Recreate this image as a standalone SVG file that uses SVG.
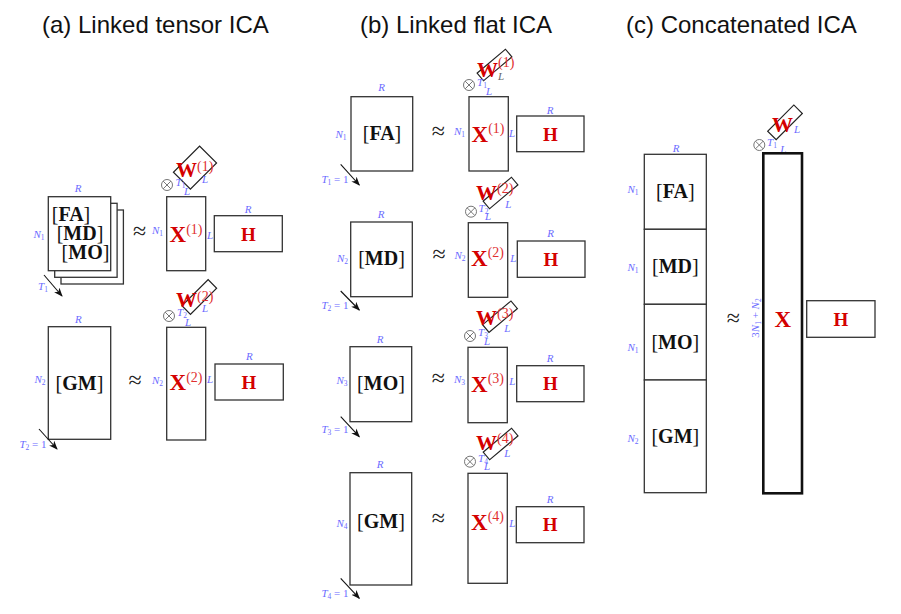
<svg xmlns="http://www.w3.org/2000/svg" width="901" height="614" viewBox="0 0 901 614">
<defs>
<style>
.title{font-family:"Liberation Sans",Arial,sans-serif;font-size:24px;fill:#111}
.box{fill:#fff;stroke:#333;stroke-width:1.3}
.thick{fill:#fff;stroke:#111;stroke-width:2.6}
.wbox{fill:none;stroke:#222;stroke-width:1.2}
.lbl{font-family:"Liberation Serif",serif;font-style:italic;font-size:11px;fill:#6b6bff;text-anchor:middle}
.lbl .s{font-style:normal;font-size:7.5px}
.lbl .n{font-style:normal}
.gry{fill:#666}
.mat{font-family:"Liberation Serif",serif;font-size:20px;fill:#111;text-anchor:middle}
.b{font-weight:bold}
.red{font-family:"Liberation Serif",serif;font-size:23px;fill:#d40000;font-weight:bold;text-anchor:middle}
.w{font-family:"Liberation Serif",serif;font-size:21px;fill:#d40000;font-weight:bold}
.p{font-weight:normal;font-size:14px;fill:#e03030}
.hh{font-family:"Liberation Serif",serif;font-size:19px;fill:#d40000;font-weight:bold;text-anchor:middle}
.ap{font-family:"Liberation Serif",serif;font-size:24px;fill:#222;text-anchor:middle}
.ot{fill:none;stroke:#777;stroke-width:1}
.arr{stroke:#111;stroke-width:1.1;fill:none;marker-end:url(#ah)}
</style>
<marker id="ah" markerWidth="9" markerHeight="8" refX="8" refY="4" orient="auto" markerUnits="userSpaceOnUse"><path d="M0,0.5 L9,4 L0,7.5 L2.5,4 z" fill="#111"/></marker>
<g id="otm" class="ot"><circle r="5.5"/><path d="M-3.9,-3.9L3.9,3.9M-3.9,3.9L3.9,-3.9"/></g>
</defs>
<rect width="901" height="614" fill="#fff"/>

<g id="titles">
<text class="title" x="42" y="33">(a) Linked tensor ICA</text>
<text class="title" x="360" y="33">(b) Linked flat ICA</text>
<text class="title" x="626" y="33">(c) Concatenated ICA</text>
</g>

<!-- Panel (a) -->
<g id="a-data1">
<rect class="box" x="61" y="210" width="62.4" height="74"/>
<rect class="box" x="54.7" y="203.3" width="62.4" height="74"/>
<rect class="box" x="48.3" y="196.7" width="62.4" height="74"/>
<text class="mat" x="71" y="221"><tspan>[</tspan><tspan class="b">FA</tspan><tspan>]</tspan></text>
<text class="mat" x="80" y="239.5"><tspan>[</tspan><tspan class="b">MD</tspan><tspan>]</tspan></text>
<text class="mat" x="85.5" y="259"><tspan>[</tspan><tspan class="b">MO</tspan><tspan>]</tspan></text>
<text class="lbl" x="78" y="192">R</text>
<text class="lbl" x="39" y="238">N<tspan class="s" dy="2">1</tspan></text>
<text class="lbl" x="43" y="290">T<tspan class="s" dy="2">1</tspan></text>
</g>
<text class="ap" x="139.5" y="239">≈</text>
<g id="a-w1">
<rect class="wbox" x="-18.5" y="-12" width="37" height="24" transform="translate(195,167.6) rotate(-45)"/>
<text class="w" x="176" y="177">W<tspan class="p" dy="-6">(1)</tspan></text>
<text class="lbl" x="205" y="183">L</text>
<use href="#otm" x="167" y="185"/>
<text class="lbl" x="180.5" y="186">T<tspan class="s" dy="2">1</tspan></text>
<text class="lbl" x="187" y="195">L</text>
</g>
<g id="a-x1">
<rect class="box" x="166.7" y="196.7" width="39" height="74"/>
<text class="red" x="186" y="242">X<tspan class="p" dy="-8">(1)</tspan></text>
<text class="lbl" x="157.5" y="234">N<tspan class="s" dy="2">1</tspan></text>
<text class="lbl" x="210" y="238.5">L</text>
</g>
<g id="a-h1">
<rect class="box" x="214.3" y="215.7" width="68" height="36"/>
<text class="hh" x="248.3" y="240.5">H</text>
<text class="lbl" x="248" y="213">R</text>
</g>

<g id="a-data2">
<rect class="box" x="48.3" y="326.7" width="62.4" height="112.6"/>
<text class="mat" x="79.5" y="390"><tspan>[</tspan><tspan class="b">GM</tspan><tspan>]</tspan></text>
<text class="lbl" x="78.3" y="323">R</text>
<text class="lbl" x="40" y="383">N<tspan class="s" dy="2">2</tspan></text>
<text class="lbl" x="33" y="448">T<tspan class="s" dy="2">2</tspan><tspan class="n" dy="-2"> = 1</tspan></text>
</g>
<text class="ap" x="135" y="387.5">≈</text>
<g id="a-w2">
<rect class="wbox" x="-18.5" y="-6" width="37" height="12" transform="translate(199.3,297) rotate(-45)"/>
<text class="w" x="176" y="306.5">W<tspan class="p" dy="-6">(2)</tspan></text>
<text class="lbl" x="205" y="312">L</text>
<use href="#otm" x="169" y="316"/>
<text class="lbl" x="182" y="316">T<tspan class="s" dy="2">2</tspan></text>
<text class="lbl" x="188" y="326">L</text>
</g>
<g id="a-x2">
<rect class="box" x="166.7" y="327.3" width="39" height="112.7"/>
<text class="red" x="186" y="390">X<tspan class="p" dy="-8">(2)</tspan></text>
<text class="lbl" x="157.5" y="384">N<tspan class="s" dy="2">2</tspan></text>
<text class="lbl" x="210" y="382.5">L</text>
</g>
<g id="a-h2">
<rect class="box" x="215" y="364" width="68.3" height="36"/>
<text class="hh" x="249" y="389">H</text>
<text class="lbl" x="249.3" y="360">R</text>
</g>

<!-- Panel (b) -->
<g id="b-fa">
<rect class="box" x="351" y="96.7" width="61.7" height="74.3"/>
<text class="mat" x="382" y="140"><tspan>[</tspan><tspan class="b">FA</tspan><tspan>]</tspan></text>
<text class="lbl" x="381.7" y="91">R</text>
<text class="lbl" x="341" y="138">N<tspan class="s" dy="2">1</tspan></text>
<text class="lbl" x="335" y="183">T<tspan class="s" dy="2">1</tspan><tspan class="n" dy="-2"> = 1</tspan></text>
</g>
<text class="ap" x="438.3" y="138.5">≈</text>
<g id="b-w1">
<rect class="wbox" x="-18.5" y="-5" width="37" height="10" transform="translate(494.5,65) rotate(-40)"/>
<text class="w" x="477" y="77">W<tspan class="p" dy="-10">(1)</tspan></text>
<text class="lbl gry" x="501" y="80">L</text>
<use href="#otm" x="469" y="85"/>
<text class="lbl" x="482" y="86">T<tspan class="s" dy="2">1</tspan></text>
<text class="lbl" x="489" y="95">L</text>
</g>
<g id="b-x1">
<rect class="box" x="469" y="96.7" width="39.3" height="74.3"/>
<text class="red" x="488" y="141.7">X<tspan class="p" dy="-9">(1)</tspan></text>
<text class="lbl" x="459.5" y="135">N<tspan class="s" dy="2">1</tspan></text>
<text class="lbl" x="512" y="137">L</text>
</g>
<g id="b-h1">
<rect class="box" x="516.7" y="116" width="67.3" height="35.7"/>
<text class="hh" x="550.3" y="140.5">H</text>
<text class="lbl" x="550" y="114">R</text>
</g>

<g id="b-md">
<rect class="box" x="350.7" y="222" width="61.6" height="74.7"/>
<text class="mat" x="381.5" y="265"><tspan>[</tspan><tspan class="b">MD</tspan><tspan>]</tspan></text>
<text class="lbl" x="381" y="218">R</text>
<text class="lbl" x="342.5" y="262">N<tspan class="s" dy="2">2</tspan></text>
<text class="lbl" x="335" y="309">T<tspan class="s" dy="2">2</tspan><tspan class="n" dy="-2"> = 1</tspan></text>
</g>
<text class="ap" x="439" y="262">≈</text>
<g id="b-w2">
<rect class="wbox" x="-18.5" y="-5" width="37" height="10" transform="translate(500.5,193) rotate(-40)"/>
<text class="w" x="476" y="200">W<tspan class="p" dy="-7">(2)</tspan></text>
<text class="lbl" x="508.3" y="207.5">L</text>
<use href="#otm" x="471" y="211.7"/>
<text class="lbl" x="483.5" y="212">T<tspan class="s" dy="2">2</tspan></text>
<text class="lbl" x="488" y="219.5">L</text>
</g>
<g id="b-x2">
<rect class="box" x="468.3" y="222.7" width="39.4" height="74.6"/>
<text class="red" x="487.5" y="266">X<tspan class="p" dy="-9">(2)</tspan></text>
<text class="lbl" x="460" y="259">N<tspan class="s" dy="2">2</tspan></text>
<text class="lbl" x="513.3" y="262">L</text>
</g>
<g id="b-h2">
<rect class="box" x="517.3" y="241" width="67.7" height="36.3"/>
<text class="hh" x="551" y="265.5">H</text>
<text class="lbl" x="550.7" y="236.5">R</text>
</g>

<g id="b-mo">
<rect class="box" x="350" y="346.7" width="61.7" height="75"/>
<text class="mat" x="381" y="390"><tspan>[</tspan><tspan class="b">MO</tspan><tspan>]</tspan></text>
<text class="lbl" x="380" y="342.5">R</text>
<text class="lbl" x="342" y="384">N<tspan class="s" dy="2">3</tspan></text>
<text class="lbl" x="335" y="433">T<tspan class="s" dy="2">3</tspan><tspan class="n" dy="-2"> = 1</tspan></text>
</g>
<text class="ap" x="438.3" y="386">≈</text>
<g id="b-w3">
<rect class="wbox" x="-18.5" y="-5" width="37" height="10" transform="translate(500,316.7) rotate(-40)"/>
<text class="w" x="476" y="325">W<tspan class="p" dy="-7">(3)</tspan></text>
<text class="lbl" x="507.3" y="331.5">L</text>
<use href="#otm" x="470" y="336"/>
<text class="lbl" x="483" y="336">T<tspan class="s" dy="2">3</tspan></text>
<text class="lbl" x="487" y="345">L</text>
</g>
<g id="b-x3">
<rect class="box" x="468" y="347.3" width="39.3" height="75.4"/>
<text class="red" x="487.5" y="391.7">X<tspan class="p" dy="-9">(3)</tspan></text>
<text class="lbl" x="459.5" y="383">N<tspan class="s" dy="2">3</tspan></text>
<text class="lbl" x="512.3" y="385">L</text>
</g>
<g id="b-h3">
<rect class="box" x="516.7" y="365.7" width="67.3" height="36"/>
<text class="hh" x="550.3" y="390">H</text>
<text class="lbl" x="550" y="361.5">R</text>
</g>

<g id="b-gm">
<rect class="box" x="350" y="472.7" width="61.7" height="112.3"/>
<text class="mat" x="381" y="528.3"><tspan>[</tspan><tspan class="b">GM</tspan><tspan>]</tspan></text>
<text class="lbl" x="380" y="468">R</text>
<text class="lbl" x="342" y="526.5">N<tspan class="s" dy="2">4</tspan></text>
<text class="lbl" x="335" y="596.5">T<tspan class="s" dy="2">4</tspan><tspan class="n" dy="-2"> = 1</tspan></text>
</g>
<text class="ap" x="438.3" y="526">≈</text>
<g id="b-w4">
<rect class="wbox" x="-18.5" y="-5" width="37" height="10" transform="translate(500.6,444) rotate(-40)"/>
<text class="w" x="476" y="450">W<tspan class="p" dy="-7">(4)</tspan></text>
<text class="lbl" x="507.3" y="457">L</text>
<use href="#otm" x="470" y="461.7"/>
<text class="lbl" x="483" y="461.5">T<tspan class="s" dy="2">4</tspan></text>
<text class="lbl" x="487" y="470">L</text>
</g>
<g id="b-x4">
<rect class="box" x="468" y="473.3" width="39.3" height="110"/>
<text class="red" x="487.5" y="530">X<tspan class="p" dy="-9">(4)</tspan></text>
<text class="lbl" x="512.3" y="526.5">L</text>
</g>
<g id="b-h4">
<rect class="box" x="516.3" y="506.7" width="67.7" height="36"/>
<text class="hh" x="550.2" y="531">H</text>
<text class="lbl" x="550" y="502.5">R</text>
</g>

<!-- Panel (c) -->
<g id="c-data">
<rect class="box" x="644.3" y="154.3" width="62" height="75"/>
<rect class="box" x="644.3" y="229.3" width="62" height="75"/>
<rect class="box" x="644.3" y="304.3" width="62" height="75.7"/>
<rect class="box" x="644.3" y="380" width="62" height="112.7"/>
<text class="mat" x="675.3" y="198.3"><tspan>[</tspan><tspan class="b">FA</tspan><tspan>]</tspan></text>
<text class="mat" x="675.3" y="273.3"><tspan>[</tspan><tspan class="b">MD</tspan><tspan>]</tspan></text>
<text class="mat" x="675.3" y="348.5"><tspan>[</tspan><tspan class="b">MO</tspan><tspan>]</tspan></text>
<text class="mat" x="675.3" y="442.5"><tspan>[</tspan><tspan class="b">GM</tspan><tspan>]</tspan></text>
<text class="lbl" x="676" y="152">R</text>
<text class="lbl" x="633" y="193">N<tspan class="s" dy="2">1</tspan></text>
<text class="lbl" x="633" y="270.5">N<tspan class="s" dy="2">1</tspan></text>
<text class="lbl" x="633" y="350.5">N<tspan class="s" dy="2">1</tspan></text>
<text class="lbl" x="633" y="441.5">N<tspan class="s" dy="2">2</tspan></text>
</g>
<text class="ap" x="733.3" y="326">≈</text>
<g id="c-w">
<rect class="wbox" x="-18.5" y="-6" width="37" height="12" transform="translate(785,122.3) rotate(-45)"/>
<text class="w" x="772" y="131.7">W</text>
<text class="lbl" x="797" y="132.5">L</text>
<use href="#otm" x="759.3" y="145"/>
<text class="lbl" x="772" y="146">T<tspan class="s" dy="2">1</tspan></text>
<text class="lbl" x="783.3" y="153">L</text>
</g>
<g id="c-x">
<rect class="thick" x="763.3" y="153.3" width="38.7" height="340"/>
<text class="red" x="782.7" y="327">X</text>
<text class="lbl" transform="translate(758.5,318) rotate(-90)"><tspan class="n">3</tspan>N<tspan class="s" dy="2">1</tspan><tspan class="n" dy="-2"> + </tspan>N<tspan class="s" dy="2">2</tspan></text>
</g>
<g id="c-h">
<rect class="box" x="806.7" y="300.7" width="68.3" height="36.6"/>
<text class="hh" x="841" y="325.5">H</text>
</g>

<g id="connectors">
<line class="arr" x1="44" y1="275" x2="62" y2="296"/>
<line class="arr" x1="39" y1="429" x2="57" y2="449"/>
<line class="arr" x1="340.7" y1="164.3" x2="359.3" y2="185"/>
<line class="arr" x1="340.7" y1="291" x2="359.3" y2="310"/>
<line class="arr" x1="340.7" y1="416.7" x2="359.3" y2="436.7"/>
<line class="arr" x1="340.7" y1="578.3" x2="359.3" y2="598.3"/>
</g>
</svg>
